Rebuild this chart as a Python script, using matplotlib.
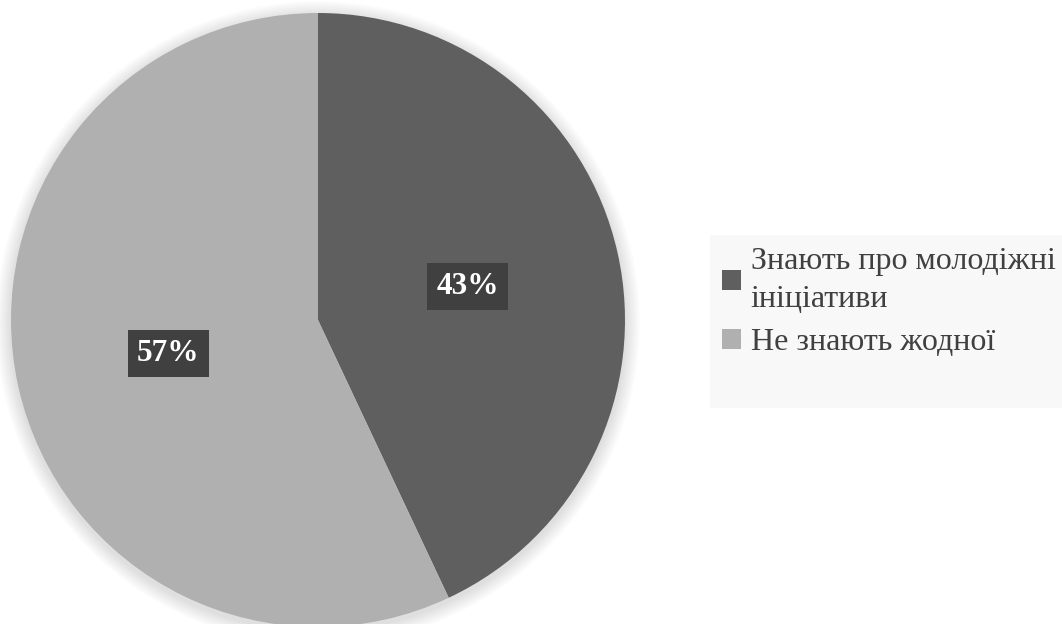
import matplotlib.pyplot as plt
from matplotlib.patches import Rectangle, Circle

labels = ['Знають про молодіжні\nініціативи', 'Не знають жодної']
values = [43, 57]
colors = ['#5f5f5f', '#b0b0b0']

plt.rcParams['font.family'] = ['Liberation Serif', 'DejaVu Serif']

fig = plt.figure(figsize=(10.62, 6.24), dpi=100)
fig.patch.set_facecolor('white')

# legend background
fig.patches.append(Rectangle((710 / 1062, 1 - 408 / 624), 352 / 1062, 173 / 624,
                             transform=fig.transFigure, facecolor='#f8f8f8',
                             edgecolor='none', zorder=0))

ax = fig.add_axes([11 / 1062, -3 / 624, 614 / 1062, 614 / 624])

# soft shadow around the pie
for i in range(8):
    ax.add_patch(Circle((0.0, -0.01), 1.0 + 0.006 * (i + 1), facecolor='black',
                        edgecolor='none', alpha=0.015, zorder=0, clip_on=False))

wedges, texts, autotexts = ax.pie(values, colors=colors, startangle=90,
                                  counterclock=False, autopct='%d%%',
                                  pctdistance=0.5, radius=1.0,
                                  wedgeprops=dict(linewidth=0, zorder=2))
for t in autotexts:
    t.set_color('white')
    t.set_fontsize(22.5)
    t.set_fontweight('bold')
    t.set_bbox(dict(boxstyle='square,pad=0.3', facecolor='#404040', edgecolor='none'))
    t.set_zorder(5)

ax.set_xlim(-1, 1)
ax.set_ylim(-1, 1)
ax.set_aspect('equal')
ax.axis('off')

leg = fig.legend(wedges, labels, loc='upper left',
                 bbox_to_anchor=(722 / 1062, 1 - 247 / 624),
                 frameon=False, fontsize=23, handlelength=0.6, handleheight=0.6,
                 handletextpad=0.3, labelspacing=0.45, labelcolor='#404040',
                 borderpad=0, borderaxespad=0)
for t in leg.get_texts():
    t.set_linespacing(1.4)

fig.savefig('out.png', dpi=100)
